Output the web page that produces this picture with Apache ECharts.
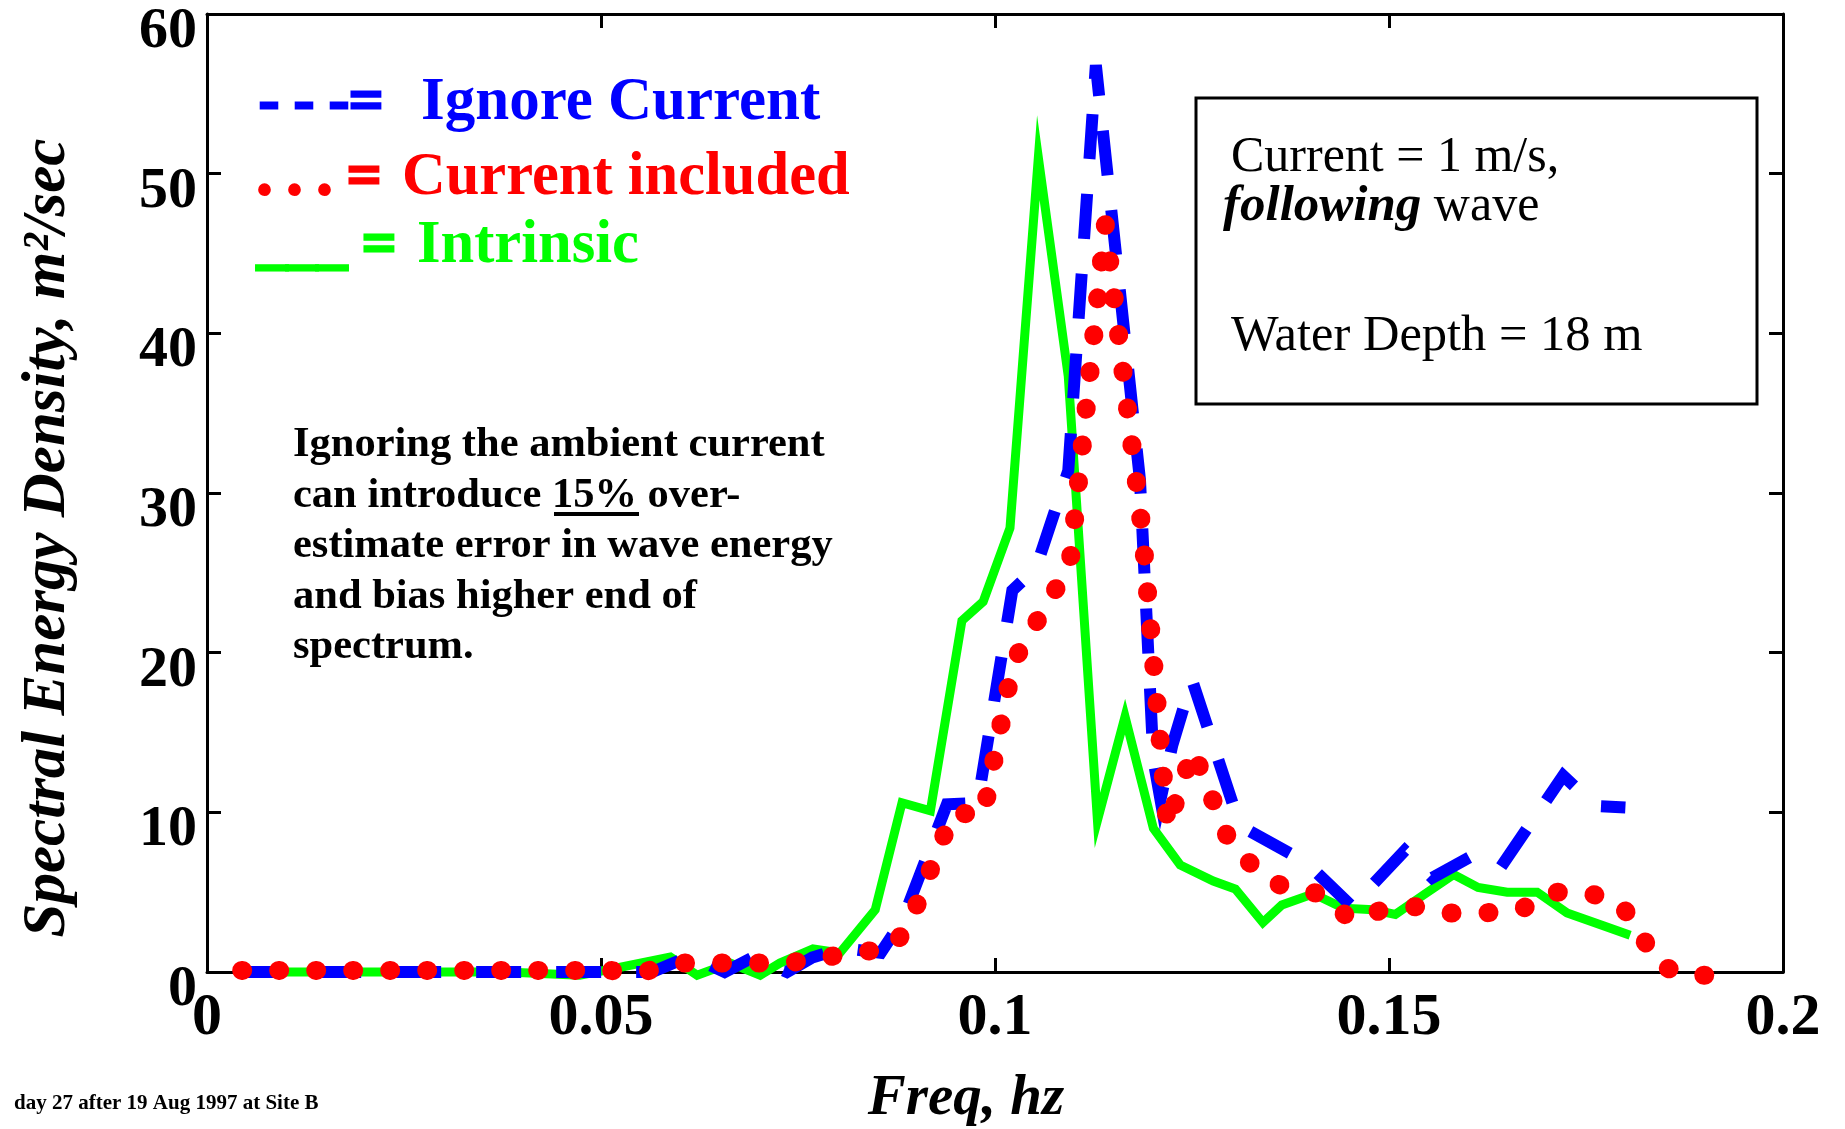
<!DOCTYPE html>
<html>
<head>
<meta charset="utf-8">
<script src="https://cdn.jsdelivr.net/npm/echarts@6/dist/echarts.min.js"></script>
<style>
  html, body { margin: 0; padding: 0; background: #fff; }
  #chart { width: 1845px; height: 1129px; }
</style>
</head>
<body>
<div id="chart"></div>
<script>
// tick labels
const xTickLabels = ['0', '0.05', '0.1', '0.15', '0.2'];
const yTickLabels = ['0', '10', '20', '30', '40', '50', '60'];

// intrinsic spectrum (green, solid)
const intrinsicFreq = [0.0037, 0.0130, 0.0250, 0.0380, 0.0473, 0.0520, 0.0588, 0.0622, 0.0664, 0.0702,
  0.0727, 0.0769, 0.0803, 0.0848, 0.0882, 0.0918, 0.0958, 0.0985, 0.1019, 0.1055,
  0.1093, 0.1130, 0.1165, 0.1201, 0.1235, 0.1277, 0.1305, 0.1340, 0.1364, 0.1404,
  0.1442, 0.1480, 0.1508, 0.1543, 0.1582, 0.1613, 0.1650, 0.1688, 0.1726, 0.1772, 0.1806];
const intrinsicEnergy = [0, 0, 0, 0, -0.2, 0.25, 0.94, -0.2, 0.56, -0.2,
  0.56, 1.44, 1.19, 3.9, 10.6, 10.1, 22.0, 23.2, 27.8, 51.0,
  37.3, 9.5, 16.0, 9.0, 6.7, 5.7, 5.2, 3.1, 4.2, 4.9,
  4.0, 3.9, 3.6, 4.8, 6.1, 5.3, 5.0, 5.0, 3.7, 2.9, 2.3];

// current ignored (blue, dashed)
const ignoreFreq = [0.0037, 0.0130, 0.0250, 0.0380, 0.0500, 0.0565, 0.0613, 0.0657, 0.0692, 0.0736,
  0.0768, 0.0807, 0.0855, 0.0883, 0.0918, 0.0939, 0.0978, 0.1022, 0.1052, 0.1093,
  0.1128, 0.1184, 0.1201, 0.1210, 0.1225, 0.1250, 0.1302, 0.1317, 0.1394, 0.1453,
  0.1520, 0.1555, 0.1603, 0.1641, 0.1721, 0.1762, 0.1800];
const ignoreEnergy = [0, 0, 0, 0, 0, 0, 1.0, 0, 0.9, 0,
  0.9, 1.5, 1.2, 3.3, 7.8, 10.5, 10.6, 23.9, 25.3, 31.4,
  56.8, 30.8, 13.3, 10.8, 14.2, 18.3, 10.5, 9.0, 6.9, 4.1,
  7.6, 5.9, 7.2, 6.5, 12.3, 10.4, 10.3];

// current included (red, dotted)
const includedFreq = [0.0044, 0.0130, 0.0250, 0.0380, 0.0508, 0.0553, 0.0600, 0.0737, 0.0787, 0.0829,
  0.0871, 0.0896, 0.0930, 0.0947, 0.0985, 0.1023, 0.1095, 0.1140, 0.1187, 0.1219,
  0.1251, 0.1298, 0.1330, 0.1366, 0.1413, 0.1451, 0.1493, 0.1536, 0.1578, 0.1622,
  0.1667, 0.1707, 0.1749, 0.1791, 0.1816, 0.1838, 0.1873, 0.1920];
const includedEnergy = [0.1, 0.1, 0.1, 0.1, 0.1, 0, 0.56, 0.56, 0.94, 1.25,
  1.5, 3.6, 7.9, 10.0, 9.8, 19.4, 25.5, 46.8, 27.6, 9.1,
  13.9, 8.1, 6.5, 5.3, 4.9, 3.3, 3.9, 4.1, 3.7, 3.7,
  3.9, 5.0, 5.0, 4.4, 2.8, 0.6, -0.2, -0.2];

const SERIF = '"Liberation Serif", "Times New Roman", serif';

function pairs(xs, ys) {
  return xs.map((x, i) => [x, ys[i]]);
}

function frameAxis(extra) {
  return Object.assign({
    type: 'value',
    axisLine: { show: true, onZero: false, lineStyle: { color: '#000', width: 3 } },
    axisTick: { show: true, inside: true, length: 14, lineStyle: { color: '#000', width: 3 } },
    splitLine: { show: false },
  }, extra);
}

function text(x, y, str, font, fill, extra) {
  return Object.assign({
    type: 'text',
    x: x,
    y: y,
    silent: true,
    style: {
      text: str,
      font: font,
      fill: fill,
      textAlign: 'left',
      textVerticalAlign: 'middle',
      align: 'left',
      verticalAlign: 'middle',
    },
  }, extra || {});
}

function centered(x, y, str, font, extra) {
  return Object.assign({
    type: 'text', x: x, y: y, silent: true,
    style: {
      text: str, font: font, fill: '#000',
      textAlign: 'center', textVerticalAlign: 'middle', align: 'center', verticalAlign: 'middle',
    },
  }, extra || {});
}

// legend prefixes get a stroke so the dashes and dots look heavier
function prefix(x, y, str, color) {
  const el = text(x, y, str, 'bold 60px ' + SERIF, color);
  el.style.stroke = color;
  el.style.lineWidth = 3;
  return el;
}

const chart = echarts.init(document.getElementById('chart'), null, { renderer: 'canvas' });

const option = {
  animation: false,
  backgroundColor: '#fff',
  grid: { left: 207, right: 62, top: 14, bottom: 157, outerBoundsMode: 'none', containLabel: false },
  xAxis: [
    frameAxis({
      min: 0, max: 0.2, interval: 0.05, position: 'bottom',
      axisLabel: {
        margin: 16, color: '#000', fontFamily: SERIF, fontWeight: 'bold', fontSize: 60,
        formatter: (v) => xTickLabels[Math.round(v / 0.05)],
      },
    }),
    frameAxis({ min: 0, max: 0.2, interval: 0.05, position: 'top', axisLabel: { show: false } }),
  ],
  yAxis: [
    frameAxis({
      min: 0, max: 60, interval: 10, position: 'left',
      axisLabel: {
        margin: 10, color: '#000', fontFamily: SERIF, fontWeight: 'bold', fontSize: 58,
        verticalAlign: 'top', lineHeight: 36,
        formatter: (v) => yTickLabels[Math.round(v / 10)],
      },
    }),
    frameAxis({ min: 0, max: 60, interval: 10, position: 'right', axisLabel: { show: false } }),
  ],
  series: [
    {
      name: 'Intrinsic', type: 'line', clip: false, showSymbol: false, silent: true,
      data: pairs(intrinsicFreq, intrinsicEnergy),
      lineStyle: { color: '#00ff00', width: 9, join: 'miter' },
    },
    {
      name: 'Ignore Current', type: 'line', clip: false, showSymbol: false, silent: true,
      data: pairs(ignoreFreq, ignoreEnergy),
      lineStyle: { color: '#0000ff', width: 12, type: [45, 35], cap: 'butt', join: 'miter' },
    },
    {
      name: 'Current included', type: 'line', clip: false, showSymbol: false, silent: true,
      data: pairs(includedFreq, includedEnergy),
      lineStyle: { color: '#ff0000', width: 19, type: [1, 36], cap: 'round', join: 'round' },
    },
  ],
  graphic: {
    elements: [
      // legend written as text
      prefix(259, 103, '- - -=', '#0000ff'),
      text(421, 103, 'Ignore Current', 'bold 61px ' + SERIF, '#0000ff'),
      prefix(257, 178, '. . . =', '#ff0000'),
      text(402, 178, 'Current included', 'bold 60.5px ' + SERIF, '#ff0000'),
      prefix(257, 246, '___ =', '#00ff00'),
      text(417, 246, 'Intrinsic', 'bold 60.5px ' + SERIF, '#00ff00'),

      // annotation
      {
        type: 'text', x: 293, y: 420, silent: true,
        style: {
          text: 'Ignoring the ambient current\ncan introduce 15% over-\nestimate error in wave energy\nand bias higher end of\nspectrum.',
          font: 'bold 42.5px ' + SERIF, fill: '#000', lineHeight: 50.5,
          textAlign: 'left', textVerticalAlign: 'top', align: 'left', verticalAlign: 'top',
        },
      },
      {
        type: 'line', silent: true,
        shape: { x1: 554, y1: 514, x2: 639, y2: 514 },
        style: { stroke: '#000', lineWidth: 4 },
      },

      // info box
      {
        type: 'rect', silent: true,
        shape: { x: 1196, y: 98, width: 561, height: 306 },
        style: { fill: null, stroke: '#000', lineWidth: 3 },
      },
      text(1231, 158, 'Current = 1 m/s,', '50px ' + SERIF, '#000'),
      {
        type: 'text', x: 1223, y: 207, silent: true,
        style: {
          text: '{bi|following}{r| wave}',
          fill: '#000',
          textAlign: 'left', textVerticalAlign: 'middle', align: 'left', verticalAlign: 'middle',
          rich: {
            bi: { font: 'italic bold 51px ' + SERIF, fill: '#000' },
            r: { font: '50px ' + SERIF, fill: '#000' },
          },
        },
      },
      text(1231, 337, 'Water Depth = 18 m', '50.5px ' + SERIF, '#000'),

      // axis titles and footnote
      centered(48, 538, 'Spectral Energy Density, m²/sec', 'italic bold 61px ' + SERIF, { rotation: Math.PI / 2 }),
      centered(966, 1099, 'Freq, hz', 'italic bold 57px ' + SERIF),
      text(14, 1104, 'day 27 after 19 Aug 1997 at Site B', 'bold 21px ' + SERIF, '#000'),
    ],
  },
};

chart.setOption(option);
</script>
</body>
</html>
